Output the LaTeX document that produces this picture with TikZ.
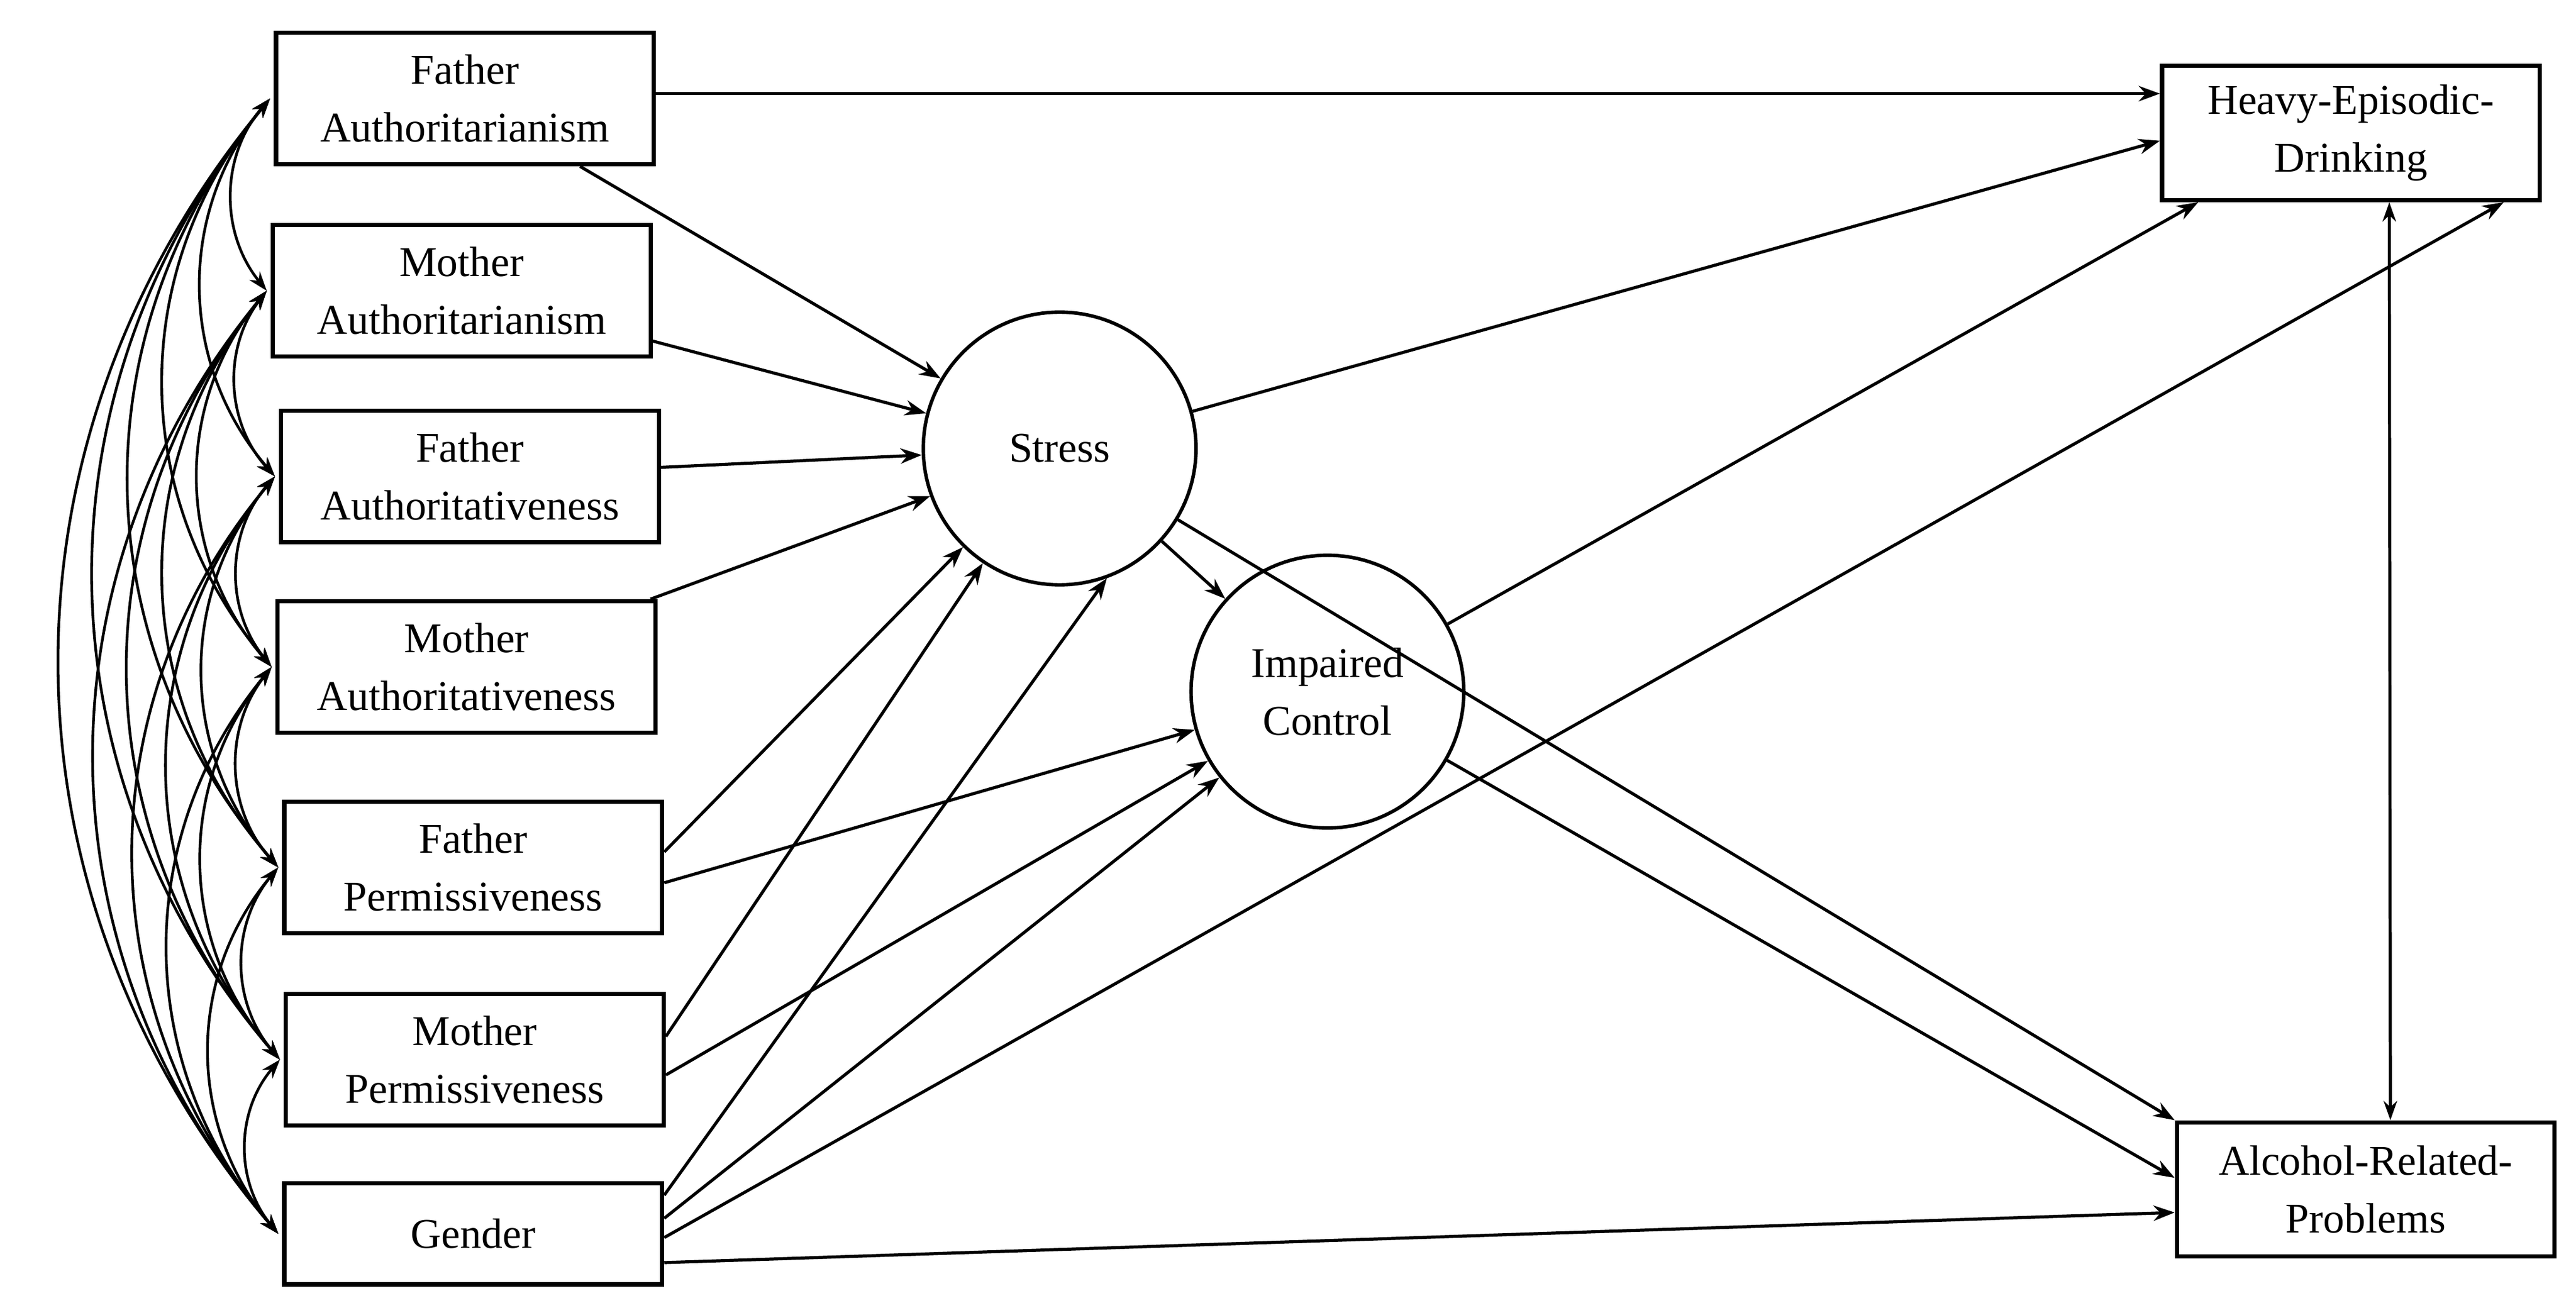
\documentclass[tikz,border=0pt]{standalone}
\usepackage{fontspec}
\setmainfont{Liberation Serif}
\usetikzlibrary{arrows.meta}
\begin{document}
\begin{tikzpicture}[x=0.03cm,y=-0.03cm,
  box/.style={draw,line width=2.2pt,minimum width=6.9cm,minimum height=2.4cm,align=center,font=\fontsize{22}{30}\selectfont,inner sep=2pt},
  circ/.style={draw,circle,line width=1.8pt,minimum size=4.98cm,align=center,font=\fontsize{22}{30}\selectfont,inner sep=0pt},
  arr/.style={line width=1.6pt,-{Stealth[length=11pt,width=8pt]}},
  cov/.style={line width=1.4pt,{Stealth[length=10pt,width=7pt]}-{Stealth[length=10pt,width=7pt]}}]
\useasboundingbox (0,0) rectangle (1568,796);
\node[box] (fa) at (283,60) {Father\\Authoritarianism};
\node[box] (ma) at (281,177) {Mother\\Authoritarianism};
\node[box] (fat) at (286,290) {Father\\Authoritativeness};
\node[box] (mat) at (284,406) {Mother\\Authoritativeness};
\node[box] (fp) at (288,528) {Father\\Permissiveness};
\node[box] (mp) at (289,645) {Mother\\Permissiveness};
\node[box,minimum height=1.85cm] (g) at (288,751) {Gender};
\node[box,minimum height=2.45cm] (hed) at (1431,81) {Heavy-Episodic-\\Drinking};
\node[box,minimum height=2.45cm] (arp) at (1440,724) {Alcohol-Related-\\Problems};
\node[circ] (s) at (645,273) {Stress};
\node[circ] (ic) at (808,421) {Impaired\\Control};
% covariances
\foreach \a/\b in {fa/ma,fa/fat,fa/mat,fa/fp,fa/mp,fa/g,ma/fat,ma/mat,ma/fp,ma/mp,ma/g,fat/mat,fat/fp,fat/mp,fat/g,mat/fp,mat/mp,mat/g,fp/mp,fp/g,mp/g}
  \draw[cov] ([xshift=-2pt]\a.west) to[bend right=40] ([xshift=-2pt]\b.west);
% paths
\draw[arr] (fa.east |- 0,57) -- (hed.west |- 0,57);
\draw[arr] (fa) -- (s);
\draw[arr] (ma) -- (s);
\draw[arr] (fat) -- (s);
\draw[arr] (mat) -- (s);
\draw[arr] ([yshift=8pt]fp.east) -- (s);
\draw[arr] ([yshift=-8pt]fp.east) -- (ic);
\draw[arr] ([yshift=12pt]mp.east) -- (s);
\draw[arr] ([yshift=-8pt]mp.east) -- (ic);
\draw[arr] ([yshift=20pt]g.east) -- (s.290);
\draw[arr] ([yshift=8pt]g.east) -- (ic);
\draw[arr] ([yshift=-2pt]g.east) -- ([xshift=-0.7cm]hed.south east);
\draw[arr] ([yshift=-15pt]g.east) -- ([yshift=-12pt]arp.west);
\draw[arr] (s) -- ([yshift=-4pt]hed.west);
\draw[arr] (s) -- (ic);
\draw[arr] (s) -- (arp.north west);
\draw[arr] (ic) -- ([xshift=0.7cm]hed.south west);
\draw[arr] (ic) -- ([yshift=6pt]arp.west);
\draw[cov,line width=1.6pt] ([xshift=0.7cm]hed.south) -- ([xshift=0.45cm]arp.north);
\end{tikzpicture}
\end{document}
